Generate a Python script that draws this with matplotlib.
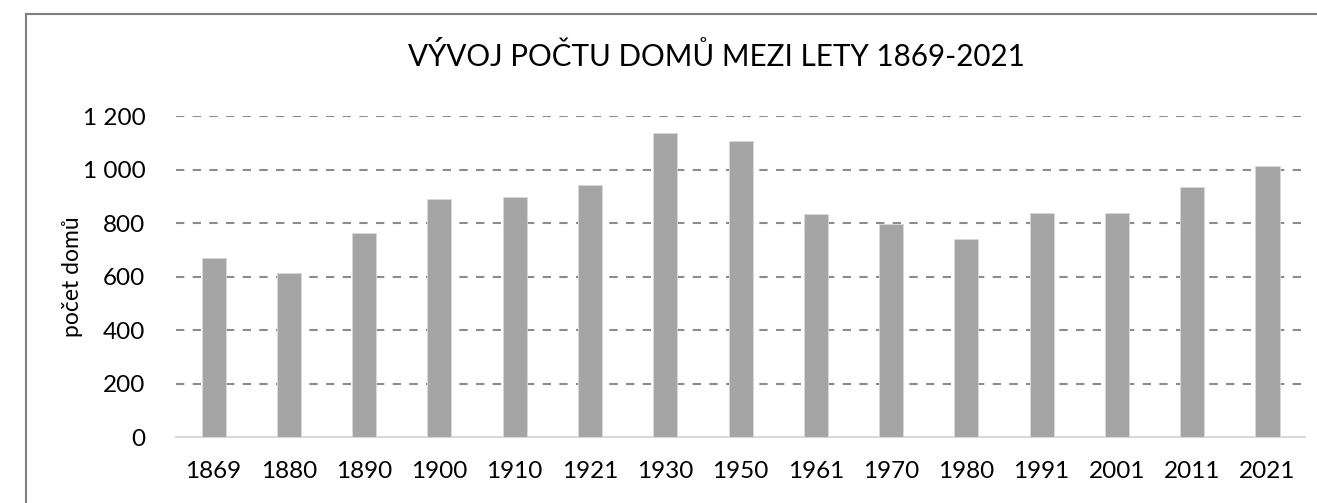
import matplotlib.pyplot as plt
from matplotlib.lines import Line2D

plt.rcParams['font.family'] = ['Lato', 'DejaVu Sans']

years = ["1869", "1880", "1890", "1900", "1910", "1921", "1930", "1950",
         "1961", "1970", "1980", "1991", "2001", "2011", "2021"]
houses = [669, 613, 763, 890, 897, 942, 1136, 1106,
          834, 796, 740, 837, 837, 935, 1013]
yticks = [0, 200, 400, 600, 800, 1000, 1200]
ytick_labels = ["0", "200", "400", "600", "800", "1 000", "1 200"]

fig = plt.figure(figsize=(13.17, 5.03), dpi=100)
ax = fig.add_axes([0.1336, 0.131, 0.8574, 0.638])

x = range(len(years))
ax.bar(x, houses, width=0.32, color='#a5a5a5', edgecolor='#d9d9d9', linewidth=0.6, zorder=3)
ax.set_xlim(-0.5, len(years) - 0.5)
ax.set_ylim(0, 1200)
ax.set_xticks(list(x))
ax.set_xticklabels(years, fontsize=17.5)
ax.set_yticks(yticks)
ax.set_yticklabels(ytick_labels, fontsize=17.5)
ax.tick_params(length=0)
ax.tick_params(axis='x', pad=17)
ax.tick_params(axis='y', pad=22)

for v in yticks[1:]:
    ax.axhline(v, color='#8c8c8c', lw=1.5, ls=(0, (4, 4)), zorder=1)

for s in ['top', 'right', 'left']:
    ax.spines[s].set_visible(False)
ax.spines['bottom'].set_color('#d9d9d9')
ax.spines['bottom'].set_linewidth(1.5)

ax.set_ylabel("počet domů", fontsize=16.5, labelpad=0)
fig.text(0.544, 0.888, "VÝVOJ POČTU DOMŮ MEZI LETY 1869-2021", fontsize=21.3,
         ha='center', va='center')

# outer frame (left and top edges visible)
fig.add_artist(Line2D([0.0197, 0.0197], [0.0, 0.972], color='#7f7f7f', lw=1.5))
fig.add_artist(Line2D([0.0197, 1.0], [0.972, 0.972], color='#7f7f7f', lw=1.5))

fig.savefig("out.png", dpi=100)
